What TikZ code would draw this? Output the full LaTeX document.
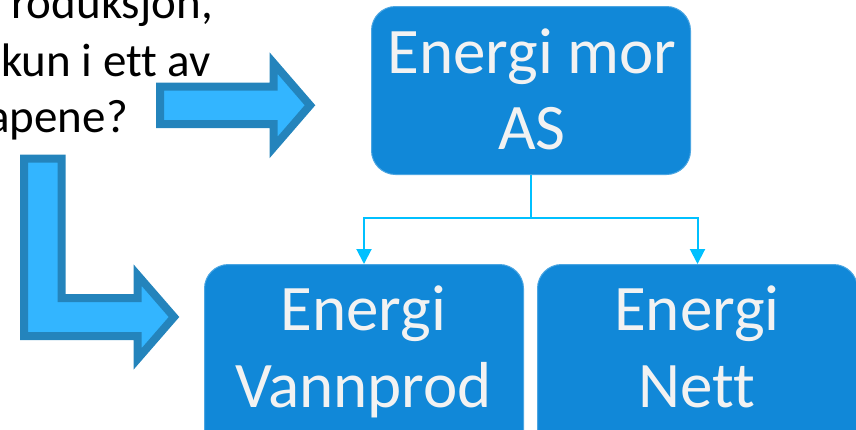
\documentclass[tikz,border=0pt]{standalone}
\usepackage{fontspec}
\setmainfont[Ligatures=NoCommon]{Carlito}
\usetikzlibrary{arrows.meta}
\definecolor{boxblue}{RGB}{17,136,216}
\definecolor{arrfill}{RGB}{51,181,255}
\definecolor{arrline}{RGB}{36,132,188}
\definecolor{connc}{RGB}{0,192,255}
\definecolor{txtw}{RGB}{242,242,242}
\begin{document}
\begin{tikzpicture}[x=1pt,y=-1pt,
  box/.style={draw=boxblue!75!white, line width=1pt, fill=boxblue, rounded corners=24pt, inner sep=0pt, anchor=north west},
  boxtext/.style={text=txtw, font=\fontsize{65}{76}\selectfont, anchor=base, inner sep=0pt},
  lefttext/.style={font=\fontsize{47}{57}\selectfont, anchor=base east, inner sep=0pt},
  bigarrow/.style={fill=arrfill, draw=arrline, line width=8pt, miter limit=10},
  connline/.style={draw=connc, line width=2pt, -{Triangle[width=15pt,length=15pt]}}
]
\useasboundingbox (0,0) rectangle (856,429);
\clip (0,0) rectangle (856,429);

% left question text (cropped as in the reference)
\node[lefttext] (q1) at (213,18) {roduksjon,};
\node[lefttext] (q2) at (211,76) {kun i ett av};
\node[lefttext] (q3) at (128,132) {apene?};

% big arrows
\draw[bigarrow] (160,86.5) -- (273.5,86.5) -- (273.5,63) -- (310,105.25) -- (273.5,147.5) -- (273.5,124) -- (160,124) -- cycle;
\draw[bigarrow] (24,158.5) -- (61.5,158.5) -- (61.5,298) -- (137.5,298) -- (137.5,275) -- (174,317) -- (137.5,359) -- (137.5,336) -- (24,336) -- cycle;

% boxes
\node[box, minimum width=319pt, minimum height=168pt] (top) at (371,6) {};
\node[box, minimum width=319pt, minimum height=190pt] (vann) at (204,264) {};
\node[box, minimum width=320pt, minimum height=190pt] (nett) at (537,264) {};

% box texts
\node[boxtext] (t1) at (532,73) {Energi mor};
\node[boxtext] (t2) at (532,149) {AS};
\node[boxtext] (v1) at (363.5,330) {Energi};
\node[boxtext] (v2) at (363.5,407) {Vannprod};
\node[boxtext] (n1) at (697,330) {Energi};
\node[boxtext] (n2) at (697,407) {Nett};

% connectors
\coordinate (mid) at (top.south |- 0,218);
\draw[connline] (top.south) -- (mid) -| (vann.north);
\draw[connline] (mid) -| (nett.north);
\end{tikzpicture}
\end{document}
